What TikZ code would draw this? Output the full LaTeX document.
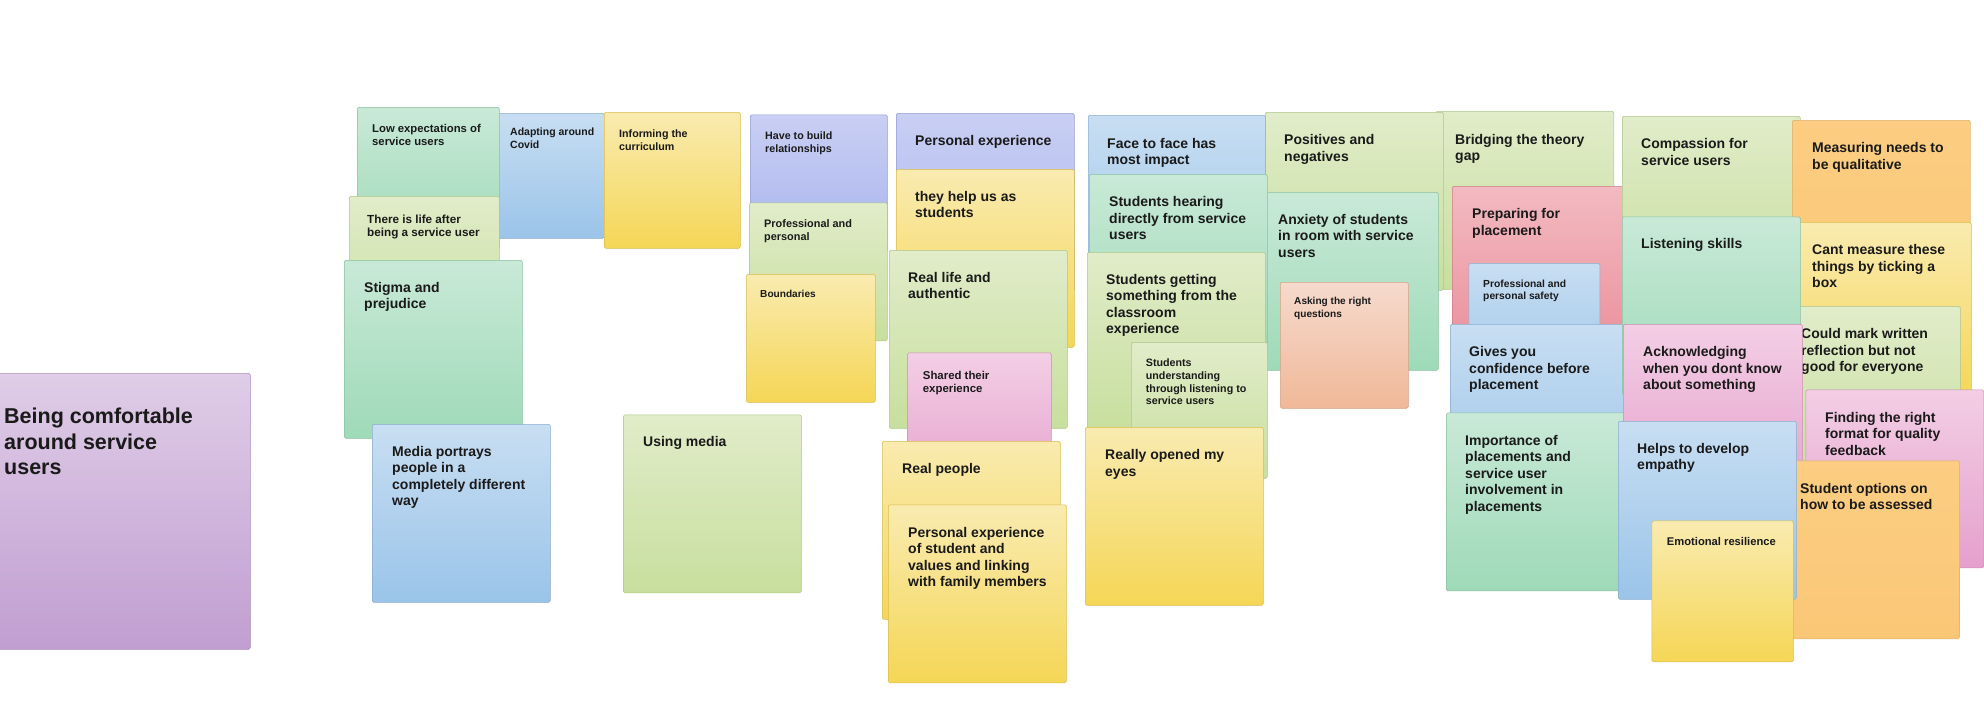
\documentclass[tikz,border=0pt]{standalone}
\usepackage{fontspec}
\setmainfont{Liberation Sans}
\definecolor{notecolor01}{RGB}{201,233,215}
\definecolor{notecolor02}{RGB}{158,218,184}
\definecolor{notecolor03}{RGB}{200,222,242}
\definecolor{notecolor04}{RGB}{154,196,233}
\definecolor{notecolor05}{RGB}{249,235,176}
\definecolor{notecolor06}{RGB}{245,214,86}
\definecolor{notecolor07}{RGB}{225,236,201}
\definecolor{notecolor08}{RGB}{199,223,158}
\definecolor{notecolor09}{RGB}{201,207,243}
\definecolor{notecolor10}{RGB}{168,179,238}
\definecolor{notecolor11}{RGB}{243,206,229}
\definecolor{notecolor12}{RGB}{229,160,204}
\definecolor{notecolor13}{RGB}{243,186,193}
\definecolor{notecolor14}{RGB}{233,141,153}
\definecolor{notecolor15}{RGB}{246,218,205}
\definecolor{notecolor16}{RGB}{240,184,152}
\definecolor{notecolor17}{RGB}{252,205,130}
\definecolor{notecolor18}{RGB}{250,199,118}
\definecolor{notecolor19}{RGB}{223,205,231}
\definecolor{notecolor20}{RGB}{193,158,209}
\definecolor{notecolor21}{RGB}{26,26,26}

\begin{document}
\begin{tikzpicture}[yscale=-1
,sticky/.style={rectangle,anchor=north west,inner sep=0,line width=0.5pt,rounded corners=1.5pt,minimum width=178pt,minimum height=178pt}
,nmint/.style={sticky,top color=notecolor01,bottom color=notecolor02,draw=notecolor02!88!black}
,nblue/.style={sticky,top color=notecolor03,bottom color=notecolor04,draw=notecolor04!88!black}
,nyell/.style={sticky,top color=notecolor05,bottom color=notecolor06,draw=notecolor06!88!black}
,nlime/.style={sticky,top color=notecolor07,bottom color=notecolor08,draw=notecolor08!88!black}
,nperi/.style={sticky,top color=notecolor09,bottom color=notecolor10,draw=notecolor10!88!black}
,npink/.style={sticky,top color=notecolor11,bottom color=notecolor12,draw=notecolor12!88!black}
,nrose/.style={sticky,top color=notecolor13,bottom color=notecolor14,draw=notecolor14!88!black}
,nsalm/.style={sticky,top color=notecolor15,bottom color=notecolor16,draw=notecolor16!88!black}
,noran/.style={sticky,top color=notecolor17,bottom color=notecolor18,draw=notecolor18!88!black}
,npurp/.style={sticky,top color=notecolor19,bottom color=notecolor20,draw=notecolor20!88!black}
,tbig/.style={below right,inner sep=0,align=left,text=notecolor21,font=\bfseries\fontsize{14pt}{16.5pt}\selectfont}
,tsmall/.style={below right,inner sep=0,align=left,text=notecolor21,font=\bfseries\fontsize{#1}{12.7pt}\selectfont}
,thuge/.style={below right,inner sep=0,align=left,text=notecolor21,font=\bfseries\fontsize{21.5pt}{25.5pt}\selectfont}
]
\useasboundingbox (0pt,0pt) rectangle (1984pt,725pt);
\clip (0pt,0pt) rectangle (1984pt,725pt);
\node (comfort) at (-26pt,373pt)[npurp,minimum width=276pt,minimum height=276pt]{};
\node (comfortt) at (4pt,408pt)[thuge]{Being comfortable\\around service\\users};
\node (covid) at (496pt,113pt)[nblue,minimum width=108pt,minimum height=125pt]{};
\node (covidt) at (510pt,128pt)[tsmall=10.5pt]{Adapting around\\Covid};
\node (lowexp) at (357pt,107pt)[nmint,minimum width=142pt,minimum height=142pt]{};
\node (lowexpt) at (372pt,124pt)[tsmall=11.3pt]{Low expectations of\\service users};
\node (inform) at (604pt,112pt)[nyell,minimum width=136pt,minimum height=136pt]{};
\node (informt) at (619pt,129.5pt)[tsmall=10.7pt]{Informing the\\curriculum};
\node (lifeafter) at (349pt,196pt)[nlime,minimum width=150pt,minimum height=150pt]{};
\node (lifeaftert) at (367pt,215pt)[tsmall=11.7pt]{There is life after\\being a service user};
\node (stigma) at (344pt,260pt)[nmint]{};
\node (stigmat) at (364pt,282pt)[tbig]{Stigma and\\prejudice};
\node (media) at (372pt,424pt)[nblue]{};
\node (mediat) at (392pt,446pt)[tbig]{Media portrays\\people in a\\completely different\\way};
\node (usemedia) at (623pt,414.6pt)[nlime]{};
\node (usemediat) at (643pt,436pt)[tbig]{Using media};
\node (build) at (750pt,114.5pt)[nperi,minimum width=137pt,minimum height=137pt]{};
\node (buildt) at (765pt,131.5pt)[tsmall=10.7pt]{Have to build\\relationships};
\node (profpers) at (749pt,202.6pt)[nlime,minimum width=138pt,minimum height=138pt]{};
\node (profperst) at (764pt,219.5pt)[tsmall=10.9pt]{Professional and\\personal};
\node (bounds) at (746pt,274pt)[nyell,minimum width=129pt,minimum height=128pt]{};
\node (boundst) at (760pt,290pt)[tsmall=10.1pt]{Boundaries};
\node (persexp) at (896pt,113pt)[nperi]{};
\node (persexpt) at (915pt,135.6pt)[tbig]{Personal experience};
\node (helpus) at (896pt,169pt)[nyell]{};
\node (helpust) at (915pt,191pt)[tbig]{they help us as\\students};
\node (reallife) at (889pt,250pt)[nlime]{};
\node (reallifet) at (908pt,272pt)[tbig]{Real life and\\authentic};
\node (shared) at (907pt,352.6pt)[npink,minimum width=144pt,minimum height=144pt]{};
\node (sharedt) at (922.7pt,371pt)[tsmall=11.4pt]{Shared their\\experience};
\node (realpeople) at (882pt,441pt)[nyell]{};
\node (realpeoplet) at (902pt,463.6pt)[tbig]{Real people};
\node (family) at (888pt,504.5pt)[nyell]{};
\node (familyt) at (908pt,526.7pt)[tbig]{Personal experience\\of student and\\values and linking\\with family members};
\node (bridging) at (1435.5pt,111pt)[nlime]{};
\node (bridgingt) at (1455pt,134pt)[tbig]{Bridging the theory\\gap};
\node (posneg) at (1265pt,112pt)[nlime]{};
\node (posnegt) at (1284pt,134.5pt)[tbig]{Positives and\\negatives};
\node (anxiety) at (1258.5pt,192pt)[nmint,minimum width=179.5pt]{};
\node (anxietyt) at (1278pt,214pt)[tbig]{Anxiety of students\\in room with service\\users};
\node (asking) at (1280pt,282pt)[nsalm,minimum width=128pt,minimum height=126pt]{};
\node (askingt) at (1294pt,297pt)[tsmall=10.1pt]{Asking the right\\questions};
\node (face) at (1088pt,115pt)[nblue,minimum width=177pt,minimum height=177pt]{};
\node (facet) at (1107pt,137.7pt)[tbig]{Face to face has\\most impact};
\node (hearing) at (1089pt,174pt)[nmint]{};
\node (hearingt) at (1109pt,196.5pt)[tbig]{Students hearing\\directly from service\\users};
\node (getting) at (1087pt,252pt)[nlime]{};
\node (gettingt) at (1106pt,274pt)[tbig]{Students getting\\something from the\\classroom\\experience};
\node (listen) at (1131pt,342pt)[nlime,minimum width=136pt,minimum height=136pt]{};
\node (listent) at (1145.7pt,358.7pt)[tsmall=10.7pt]{Students\\understanding\\through listening to\\service users};
\node (opened) at (1085pt,427pt)[nyell]{};
\node (openedt) at (1105pt,449.5pt)[tbig]{Really opened my\\eyes};
\node (preparing) at (1452pt,186pt)[nrose]{};
\node (preparingt) at (1472pt,208.5pt)[tbig]{Preparing for\\placement};
\node (safety) at (1468.5pt,263pt)[nblue,minimum width=131pt,minimum height=131pt]{};
\node (safetyt) at (1483pt,279.4pt)[tsmall=10.3pt]{Professional and\\personal safety};
\node (confidence) at (1450pt,324pt)[nblue]{};
\node (confidencet) at (1469pt,346.5pt)[tbig]{Gives you\\confidence before\\placement};
\node (importance) at (1446pt,412.6pt)[nmint]{};
\node (importancet) at (1465pt,434.8pt)[tbig]{Importance of\\placements and\\service user\\involvement in\\placements};
\node (compassion) at (1622pt,116pt)[nlime]{};
\node (compassiont) at (1641pt,138.5pt)[tbig]{Compassion for\\service users};
\node (measuring) at (1792pt,120pt)[noran]{};
\node (measuringt) at (1812pt,142.5pt)[tbig]{Measuring needs to\\be qualitative};
\node (ticking) at (1793pt,222pt)[nyell]{};
\node (tickingt) at (1812pt,244.5pt)[tbig]{Cant measure these\\things by ticking a\\box};
\node (written) at (1782pt,306pt)[nlime]{};
\node (writtent) at (1801pt,328.5pt)[tbig]{Could mark written\\reflection but not\\good for everyone};
\node (skills) at (1622pt,216.5pt)[nmint]{};
\node (skillst) at (1641pt,238.5pt)[tbig]{Listening skills};
\node (acknow) at (1623pt,324pt)[npink,minimum width=179pt,minimum height=177pt]{};
\node (acknowt) at (1643pt,346.5pt)[tbig]{Acknowledging\\when you dont know\\about something};
\node (format) at (1805.6pt,389.7pt)[npink]{};
\node (formatt) at (1825pt,412pt)[tbig]{Finding the right\\format for quality\\feedback};
\node (options) at (1781pt,460.7pt)[noran]{};
\node (optionst) at (1800pt,483pt)[tbig]{Student options on\\how to be assessed};
\node (empathy) at (1618pt,421pt)[nblue]{};
\node (empathyt) at (1637pt,443pt)[tbig]{Helps to develop\\empathy};
\node (resil) at (1651.7pt,520.7pt)[nyell,minimum width=141.3pt,minimum height=141pt]{};
\node (resilt) at (1666.7pt,537pt)[tsmall=11.2pt]{Emotional resilience};
\end{tikzpicture}
\end{document}
